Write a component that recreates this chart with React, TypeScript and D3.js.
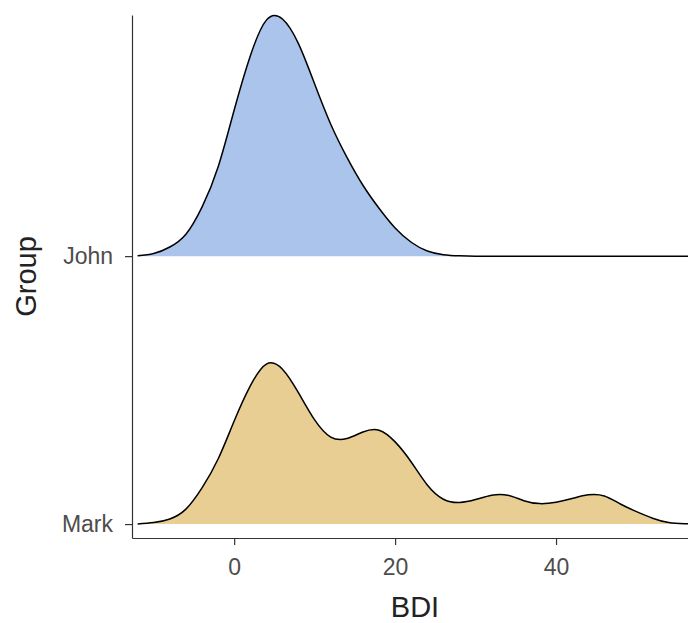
import { area, axisBottom, axisLeft, curveNatural, line, max, scaleLinear, select } from 'd3';
import React, { useEffect, useRef } from 'react';

const bdiGrid = [
  -12, -10, -8, -6, -4, -2, 0, 2, 4, 6, 8, 10, 12, 14, 16, 18, 20, 22, 24, 26, 28,
  30, 32, 34, 36, 38, 40, 42, 44, 46, 48, 50, 52, 54, 56, 58,
];

const johnDensity = [
  0.0001, 0.0007, 0.0025, 0.006, 0.0134, 0.0244, 0.04, 0.0548, 0.0646, 0.0649,
  0.0581, 0.0471, 0.0361, 0.0271, 0.0194, 0.0131, 0.0077, 0.0038, 0.0014, 0.0004,
  0.0001, 0, 0, 0, 0, 0, 0, 0, 0, 0, 0, 0, 0, 0, 0, 0,
];

const markDensity = [
  0, 0.0004, 0.0014, 0.0041, 0.0099, 0.0178, 0.0282, 0.0378, 0.0438, 0.0424,
  0.0359, 0.0285, 0.0238, 0.0234, 0.0252, 0.0257, 0.0225, 0.017, 0.0107, 0.0068,
  0.0059, 0.0067, 0.0079, 0.0079, 0.0064, 0.0056, 0.006, 0.007, 0.008, 0.0077,
  0.0055, 0.0034, 0.0016, 0.0004, 0.0001, 0,
];

const groups = ['Mark', 'John'];
const xTicks = [0, 20, 40];

const fills: Record<string, string> = { John: '#abc4ec', Mark: '#e9ce94' };

const width = 688;
const height = 623;

const App: React.FC = () => {
  const svgRef = useRef<SVGSVGElement>(null);

  useEffect(() => {
    const svg = select(svgRef.current);
    svg.selectAll('*').remove();

    const panel = { left: 132, right: 688, top: 15, bottom: 538 };

    // Define Scales
    const xScale = scaleLinear().domain([-12.7, 56.4]).range([panel.left, panel.right]);
    const yScale = scaleLinear().domain([0.948, 2.9]).range([panel.bottom, panel.top]);
    const maxDensity = max([...johnDensity, ...markDensity]) as number;
    const ridgeScale = 0.885;

    svg
      .append('clipPath')
      .attr('id', 'panel-clip')
      .append('rect')
      .attr('x', panel.left)
      .attr('y', 0)
      .attr('width', panel.right - panel.left)
      .attr('height', panel.bottom);

    const ridges = [
      { name: 'John', values: johnDensity },
      { name: 'Mark', values: markDensity },
    ];

    const marks = svg.append('g').attr('clip-path', 'url(#panel-clip)');

    ridges.forEach((ridge) => {
      const base = groups.indexOf(ridge.name) + 1;
      const pts = bdiGrid.map((x, i) => ({ x, d: ridge.values[i] }));
      const yOf = (d: number) => yScale(base + (d / maxDensity) * ridgeScale);

      const areaGen = area<{ x: number; d: number }>()
        .x((p) => xScale(p.x))
        .y0(yScale(base))
        .y1((p) => yOf(p.d))
        .curve(curveNatural);
      const lineGen = line<{ x: number; d: number }>()
        .x((p) => xScale(p.x))
        .y((p) => yOf(p.d))
        .curve(curveNatural);

      marks
        .append('path')
        .attr('d', areaGen(pts))
        .attr('fill', fills[ridge.name]);
      marks
        .append('path')
        .attr('d', lineGen(pts))
        .attr('fill', 'none')
        .attr('stroke', '#000')
        .attr('stroke-width', 1.5)
        .attr('stroke-linejoin', 'round');
    });

    // Draw Axis
    const xAxis = axisBottom(xScale).tickValues(xTicks).tickSize(7).tickSizeOuter(0).tickPadding(14);
    const yAxis = axisLeft(yScale)
      .tickValues([1, 2])
      .tickFormat((d) => groups[(d as number) - 1])
      .tickSize(7)
      .tickSizeOuter(0)
      .tickPadding(12);

    const gx = svg
      .append('g')
      .attr('transform', `translate(0, ${panel.bottom})`)
      .call(xAxis);
    const gy = svg
      .append('g')
      .attr('transform', `translate(${panel.left}, 0)`)
      .call(yAxis);

    [gx, gy].forEach((g) => {
      g.attr('font-family', 'Liberation Sans, Arial, sans-serif').attr('font-size', 23);
      g.select('.domain').attr('stroke', '#333').attr('stroke-width', 1.2);
      g.selectAll('.tick line').attr('stroke', '#333').attr('stroke-width', 1.2);
      g.selectAll('.tick text').attr('fill', '#4d4d4d');
    });

    //Draw labels
    svg
      .append('text')
      .attr('x', 415)
      .attr('y', 617)
      .attr('text-anchor', 'middle')
      .attr('font-family', 'Liberation Sans, Arial, sans-serif')
      .attr('font-size', 29)
      .attr('fill', '#222')
      .text('BDI');
    svg
      .append('text')
      .attr('transform', `translate(36, ${(panel.top + panel.bottom) / 2}) rotate(-90)`)
      .attr('text-anchor', 'middle')
      .attr('font-family', 'Liberation Sans, Arial, sans-serif')
      .attr('font-size', 29)
      .attr('fill', '#222')
      .text('Group');
  }, []);

  return (
    <div style={{ position: 'fixed', left: 0, top: 0, width, height, background: '#fff' }}>
      <svg ref={svgRef} width={width} height={height} />
    </div>
  );
};

export default App;
